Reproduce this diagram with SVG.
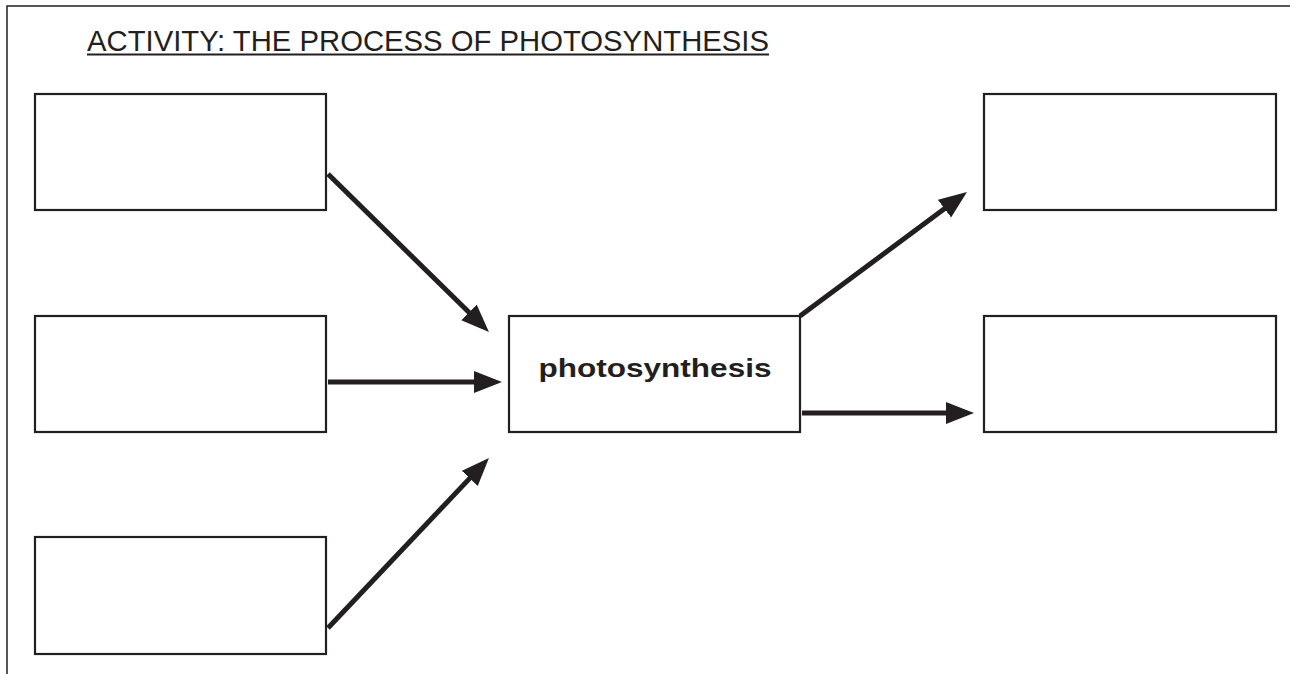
<svg xmlns="http://www.w3.org/2000/svg" width="1290" height="674" viewBox="0 0 1290 674">
<style>
.box{fill:#fff;stroke:#231f20;stroke-width:2.2}
.conn{stroke:#231f20;stroke-width:5;fill:none;marker-end:url(#ah)}
.frame{stroke:#231f20;stroke-width:1.5;fill:none}
.title{font-family:"Liberation Sans",Arial,sans-serif;font-size:29px;fill:#231f20}
.uline{stroke:#231f20;stroke-width:2}
.lbl{font-family:"Liberation Sans",Arial,sans-serif;font-size:26px;font-weight:bold;fill:#231f20}
</style>
<defs>
<marker id="ah" markerUnits="userSpaceOnUse" markerWidth="30" markerHeight="24" refX="2" refY="11" orient="auto">
<path d="M0,0 L28,11 L0,22 z" fill="#231f20"/>
</marker>
</defs>
<rect width="1290" height="674" fill="#fff"/>
<path class="frame" d="M7,674 V6 H1290"/>
<g id="title">
<text class="title" x="87" y="51" textLength="682" lengthAdjust="spacingAndGlyphs">ACTIVITY: THE PROCESS OF PHOTOSYNTHESIS</text>
<line class="uline" x1="87" y1="54.5" x2="769" y2="54.5"/>
</g>
<g id="input1"><rect class="box" x="35" y="94" width="291" height="116"/></g>
<g id="input2"><rect class="box" x="35" y="316" width="291" height="116"/></g>
<g id="input3"><rect class="box" x="35" y="537" width="291" height="117"/></g>
<g id="photosynthesis"><rect class="box" x="509" y="316" width="291" height="116"/>
<text class="lbl" x="655" y="377" text-anchor="middle" textLength="233" lengthAdjust="spacingAndGlyphs">photosynthesis</text></g>
<g id="output1"><rect class="box" x="984" y="94" width="292" height="116"/></g>
<g id="output2"><rect class="box" x="984" y="316" width="292" height="116"/></g>
<g id="connectors">
<line class="conn" x1="328" y1="174" x2="470.4" y2="313.8"/>
<line class="conn" x1="328" y1="382" x2="476" y2="382"/>
<line class="conn" x1="328" y1="628" x2="471.1" y2="476.9"/>
<line class="conn" x1="800" y1="316" x2="946.1" y2="207.5"/>
<line class="conn" x1="802" y1="413" x2="948" y2="413"/>
</g>
</svg>
